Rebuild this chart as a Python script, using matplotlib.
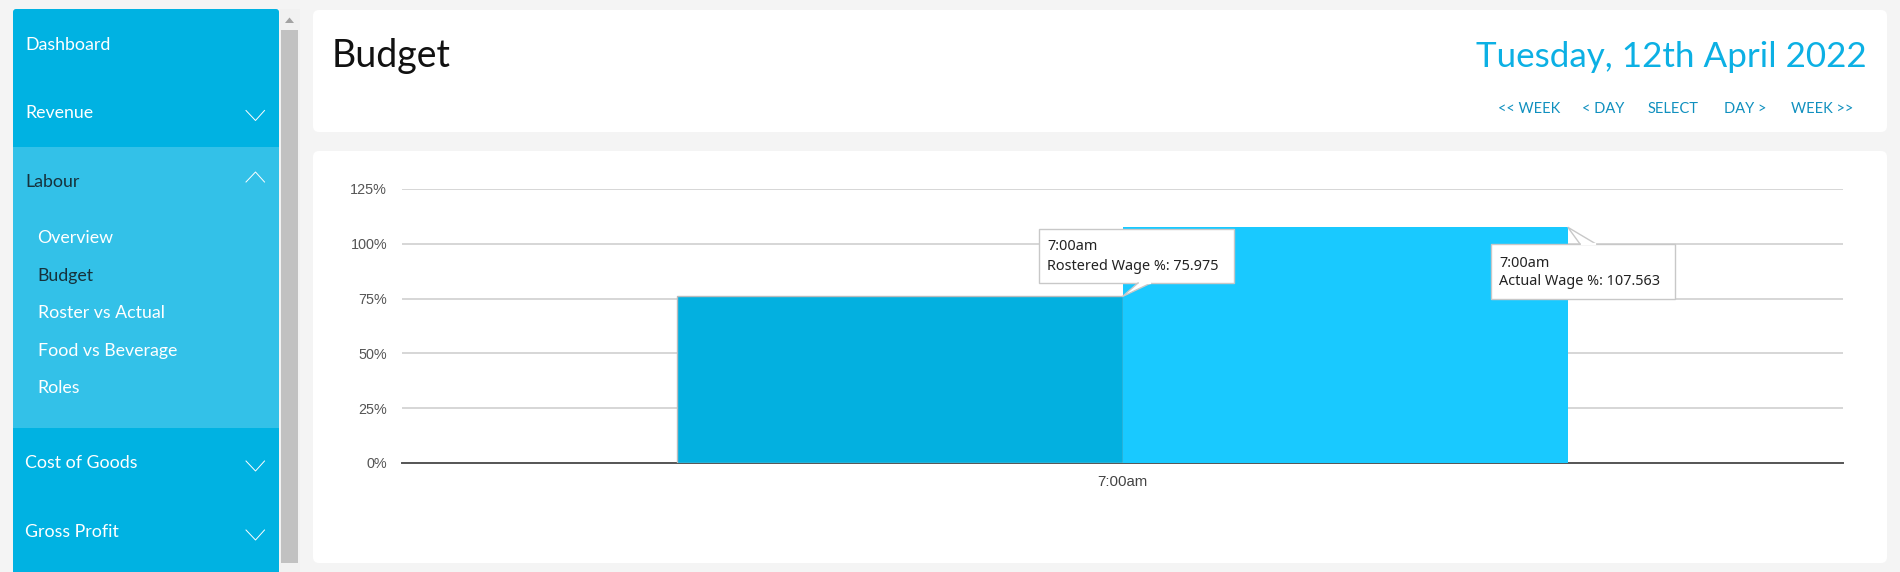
import matplotlib
matplotlib.use('Agg')
import matplotlib.pyplot as plt
from matplotlib.patches import Rectangle, FancyBboxPatch, Polygon

W, H = 1900, 572

# chart data
categories = ['7:00am']
rostered_wage = [75.975]
actual_wage = [107.563]
y_ticks = [0, 25, 50, 75, 100, 125]

# page text
menu_labels = ['Dashboard', 'Revenue', 'Labour', 'Cost of Goods', 'Gross Profit']
sub_labels = ['Overview', 'Budget', 'Roster vs Actual', 'Food vs Beverage', 'Roles']
page_title = 'Budget'
date_label = 'Tuesday, 12th April 2022'
nav_labels = ['<< WEEK', '< DAY', 'SELECT', 'DAY >', 'WEEK >>']

# layout, in pixels
menu_y = [50, 118.5, 187, 468.5, 537]
sub_y = [243, 281, 318.5, 356, 393]
nav_x = [1498, 1582, 1648, 1724, 1791]

BG = '#f4f4f4'
BLUE = '#00b2e2'
LIGHT = '#33c1e8'
BAR_DARK = '#03b0e0'
BAR_LIGHT = '#19c9ff'
FONT = 'Lato'

fig = plt.figure(figsize=(W / 100, H / 100), dpi=100, facecolor=BG)

# page furniture sits in a pixel axes behind the chart
bg = fig.add_axes([0, 0, 1, 1], zorder=0)
bg.set_xlim(0, W)
bg.set_ylim(H, 0)
bg.axis('off')


def card(x0, y0, x1, y1):
    bg.add_patch(FancyBboxPatch((x0 + 5, y0 + 5), x1 - x0 - 10, y1 - y0 - 10,
                                boxstyle='round,pad=5,rounding_size=6', fc='white', ec='none'))


card(313, 10, 1887, 132)
card(313, 151, 1887, 563)

# sidebar
bg.add_patch(FancyBboxPatch((16, 12), 260, H, boxstyle='round,pad=3,rounding_size=3', fc=BLUE, ec='none'))
bg.add_patch(Rectangle((13, 147), 266, 281, fc=LIGHT, ec='none'))
for i, label in enumerate(menu_labels):
    color = '#16323c' if label == 'Labour' else 'white'
    bg.text(25, menu_y[i], label, color=color, fontsize=12.8, family=FONT, va='baseline')
for i, label in enumerate(sub_labels):
    color = '#16323c' if label == 'Budget' else 'white'
    bg.text(37.5, sub_y[i], label, color=color, fontsize=12.8, family=FONT, va='baseline')

# chevrons
for top in [110.5, 461, 530]:
    bg.plot([246, 255.5, 264.5], [top, top + 10, top], color='white', lw=0.7)
bg.plot([246, 255.5, 264.5], [182, 172, 182], color='white', lw=0.7)

# scrollbar
bg.add_patch(Rectangle((280, 9), 20, H - 9, fc='#f1f1f1', ec='none'))
bg.add_patch(Rectangle((281, 30), 17, 533, fc='#c1c1c1', ec='none'))
bg.add_patch(Polygon([(285, 23), (289.5, 17.5), (294, 23)], fc='#a3a3a3', ec='none'))

# header
bg.text(332, 67, page_title, color='#111111', fontsize=27, family=FONT, va='baseline')
bg.text(1867, 67, date_label, color='#0cb0e4', fontsize=25.2, family=FONT, ha='right', va='baseline')
for x, label in zip(nav_x, nav_labels):
    bg.text(x, 113, label, color='#1090bf', fontsize=10.5, family=FONT, va='baseline')

# chart
ax = fig.add_axes([402 / W, 1 - 463 / H, (1843 - 402) / W, (463 - 189) / H], zorder=1)
ax.patch.set_alpha(0)
bar_w = 0.309
xs = range(len(categories))
ax.bar([x - bar_w / 2 for x in xs], rostered_wage, bar_w, color=BAR_DARK, edgecolor='#b8bcbe', linewidth=1, zorder=3)
ax.bar([x + bar_w / 2 for x in xs], actual_wage, bar_w, color=BAR_LIGHT, zorder=3)
ax.set_xlim(-0.5, 0.5)
ax.set_ylim(0, 125)
ax.set_xticks(list(xs))
ax.set_xticklabels(categories, family='Liberation Sans', fontsize=10.8, color='#444444')
ax.set_yticks(y_ticks)
ax.set_yticklabels([f'{t}%' for t in y_ticks], family='Liberation Sans', fontsize=10.4, color='#555555')
ax.tick_params(axis='x', length=0, pad=8.5)
ax.tick_params(axis='y', length=0, pad=10.8)
ax.grid(axis='y', color='#cccccc', lw=1.1, zorder=1)
ax.set_axisbelow(True)
for side in ['top', 'right', 'left']:
    ax.spines[side].set_visible(False)
ax.spines['bottom'].set_color('#555555')
ax.spines['bottom'].set_linewidth(1.4)

# tooltips on top, in pixels again
top = fig.add_axes([0, 0, 1, 1], zorder=2)
top.set_xlim(0, W)
top.set_ylim(H, 0)
top.axis('off')


def to_px(x, y):
    px, py = ax.transData.transform((x, y))
    return px, H - py


def tooltip(x0, y0, x1, y1, tail, lines, tx, ty):
    top.add_patch(Polygon([(x0, y0), (x1, y0), (x1, y1), (x0, y1)], fc='white', ec='#c8c8c8', lw=1))
    top.add_patch(Polygon(tail, fc='white', ec='#c8c8c8', lw=1))
    # hide the tail's join with the box
    top.plot([tail[0][0] + 1.5, tail[2][0] - 1.5], [tail[0][1], tail[2][1]], color='white', lw=1.6)
    for line, y in zip(lines, ty):
        top.text(tx, y, line, color='#222222', fontsize=10.4, family='Noto Sans', va='baseline')


tip = to_px(0, rostered_wage[0])
tooltip(1039, 229, 1234, 283, [(1138, 283), tip, (1151, 283)],
        [categories[0], f'Rostered Wage %: {rostered_wage[0]}'], 1047, [250, 270])
tip = to_px(bar_w, actual_wage[0])
tooltip(1491, 244, 1675, 299, [(1580, 244), tip, (1596, 244)],
        [categories[0], f'Actual Wage %: {actual_wage[0]}'], 1499, [267, 285])

fig.savefig('out.png', dpi=100, facecolor=BG)
